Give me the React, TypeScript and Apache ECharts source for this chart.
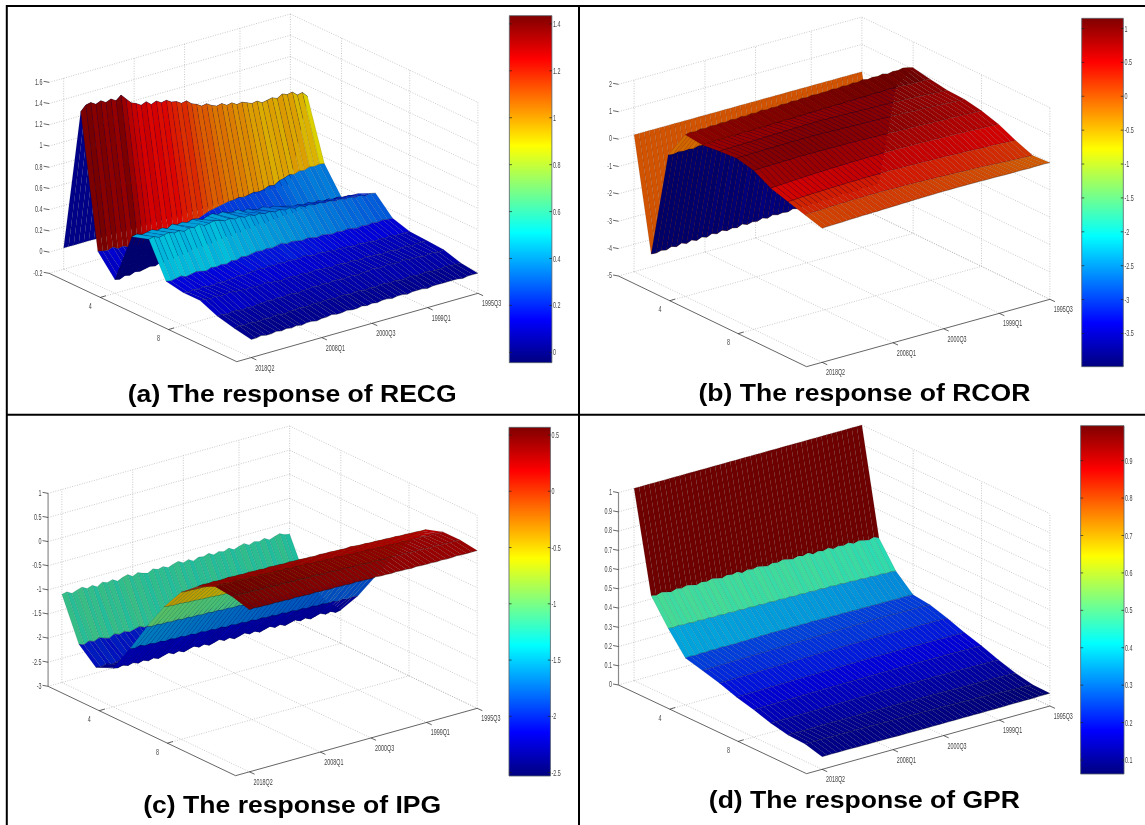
import React, { useEffect, useRef } from "react";
import * as echarts from "echarts";

// Horizons 1..12 (rows); columns run from 2018Q2 (first) back to 1995Q3 (last), every second quarter.
const RECG = [
  [0,0,0,0,0,0,0,0,0,0,0,0,0,0,0,0,0,0,0,0,0,0,0,0,0,0,0,0,0,0,0,0,0,0,0,0,0,0,0,0,0,0,0,0,0,0],
  [1.36,1.41,1.42,1.39,1.41,1.38,1.40,1.37,1.41,1.36,1.31,1.29,1.26,1.28,1.24,1.26,1.23,1.24,1.21,1.20,1.17,1.18,1.14,1.12,1.09,1.10,1.07,1.05,1.06,1.03,1.04,1.01,1.02,1.00,.98,.99,.96,.97,.98,.96,.99,.97,.98,.94,.95,.90],
  [.12,.11,.10,.12,.09,.10,.08,.09,.07,.08,.09,.07,.10,.12,.11,.13,.14,.13,.16,.17,.16,.18,.20,.21,.22,.23,.24,.24,.25,.24,.25,.26,.25,.26,.28,.27,.30,.31,.33,.32,.34,.33,.35,.34,.35,.34],
  [-.07,-.08,-.06,-.07,-.05,-.06,-.05,-.04,-.05,-.03,-.04,-.02,-.03,-.01,-.02,0,.01,0,.02,.01,.03,.02,.04,.03,.05,.04,.06,.05,.06,.07,.06,.08,.07,.08,.09,.08,.09,.10,.09,.10,.11,.10,.11,.10,.11,.10],
  [.41,.42,.40,.41,.42,.40,.41,.39,.42,.40,.41,.39,.41,.40,.38,.40,.41,.39,.40,.38,.37,.38,.35,.36,.34,.33,.34,.31,.32,.30,.29,.28,.26,.27,.25,.26,.24,.25,.23,.24,.22,.23,.21,.22,.20,.21],
  [.46,.47,.45,.46,.47,.45,.46,.44,.46,.45,.47,.44,.45,.46,.45,.43,.44,.42,.43,.41,.42,.40,.41,.39,.40,.38,.39,.37,.38,.36,.37,.35,.36,.34,.35,.33,.34,.32,.33,.31,.32,.30,.31,.29,.30,.29],
  [.14,.13,.14,.15,.13,.14,.15,.14,.13,.15,.14,.15,.14,.16,.15,.17,.16,.17,.18,.17,.18,.17,.18,.19,.17,.18,.17,.16,.17,.16,.15,.16,.15,.14,.15,.14,.15,.14,.13,.14,.13,.14,.13,.14,.13,.13],
  [.11,.10,.11,.10,.11,.10,.10,.11,.10,.11,.11,.12,.11,.12,.12,.13,.12,.13,.12,.13,.12,.13,.12,.12,.13,.12,.11,.12,.11,.11,.10,.11,.10,.10,.09,.10,.09,.09,.08,.09,.08,.09,.08,.08,.08,.08],
  [.11,.11,.10,.11,.10,.10,.11,.10,.10,.09,.10,.09,.09,.10,.09,.09,.08,.09,.09,.08,.09,.08,.08,.09,.08,.08,.07,.08,.08,.07,.08,.07,.07,.08,.07,.07,.06,.07,.07,.06,.07,.07,.06,.07,.07,.07],
  [.04,.04,.03,.04,.04,.03,.04,.03,.04,.04,.05,.04,.05,.04,.05,.05,.04,.05,.05,.06,.05,.06,.05,.06,.06,.05,.06,.06,.05,.06,.06,.07,.06,.06,.07,.06,.06,.07,.06,.06,.06,.05,.06,.06,.05,.06],
  [0,.01,0,.01,0,0,.01,0,.01,.01,0,.01,.01,.02,.01,.01,.02,.01,.02,.02,.01,.02,.02,.01,.02,.02,.01,.02,.01,.02,.02,.01,.02,.01,.01,.02,.01,.01,.02,.01,.01,.01,.02,.01,.01,.01],
  [-.03,-.03,-.02,-.03,-.03,-.02,-.03,-.02,-.03,-.02,-.03,-.02,-.02,-.03,-.02,-.02,-.01,-.02,-.02,-.01,-.02,-.02,-.01,-.02,-.01,-.02,-.01,-.01,-.02,-.01,-.01,-.02,-.01,-.01,-.01,-.02,-.01,-.01,-.01,-.01,-.01,-.01,-.02,-.01,-.01,-.01],
];
const RCOR = [
  [0,0,0,0,0,0,0,0,0,0,0,0,0,0,0,0,0,0,0,0,0,0,0,0,0,0,0,0,0,0,0,0,0,0,0,0,0,0,0,0,0,0,0,0,0,0],
  [-4.05,-4.07,-4.02,-4.06,-3.98,-4.04,-3.96,-4.03,-3.95,-4.02,-3.94,-4.0,-3.92,-3.98,-3.9,-3.97,-3.92,-3.96,-3.88,-3.95,-3.9,-3.93,-3.86,-3.92,-3.85,-3.9,-3.87,-3.9,-3.83,-3.88,-3.85,-3.87,-3.82,-3.86,-3.8,-3.85,-3.82,-3.84,-3.78,-3.83,-3.8,-3.82,-3.76,-3.8,-3.78,-3.75],
  [-.13,-.15,-.11,-.14,-.12,-.15,-.1,-.13,-.11,-.12,-.09,-.12,-.08,-.1,-.07,-.09,-.06,-.08,-.05,-.07,-.04,-.06,-.03,-.05,-.02,-.04,-.01,-.03,0,-.02,.01,-.01,.02,0,.03,.01,.04,.02,.05,.03,.06,.04,.07,.05,.06,.08],
  [.9,.94,.91,.96,.93,.97,.94,.98,.95,.99,.96,1.0,.97,1.01,.98,1.03,.99,1.02,1.0,1.04,1.01,1.05,1.02,1.06,1.03,1.07,1.04,1.06,1.05,1.08,1.05,1.09,1.06,1.1,1.07,1.12,1.08,1.11,1.09,1.13,1.08,1.12,1.1,1.14,1.1,1.05],
  [.83,.85,.84,.86,.85,.87,.86,.85,.88,.86,.87,.89,.88,.87,.9,.88,.91,.89,.9,.92,.9,.93,.91,.92,.94,.92,.95,.93,.94,.96,.94,.97,.95,.96,.98,.96,.97,.99,.96,.98,.97,.95,.96,.94,.95,.93],
  [.9,.92,.91,.93,.92,.94,.93,.95,.94,.96,.95,.97,.96,.98,.97,.99,.98,1.0,.99,1.0,1.01,.99,1.0,.98,.99,.97,.98,.96,.97,.95,.96,.94,.95,.93,.94,.92,.91,.92,.9,.89,.88,.87,.86,.85,.84,.83],
  [.95,.96,.95,.97,.96,.97,.98,.97,.99,.98,.99,1.0,.98,1.0,.99,1.0,.98,.99,.97,.98,.96,.97,.95,.96,.94,.95,.93,.94,.92,.93,.91,.92,.9,.91,.89,.88,.87,.88,.86,.85,.84,.83,.82,.81,.81,.8],
  [.8,.81,.82,.81,.83,.82,.84,.83,.84,.85,.84,.85,.84,.85,.84,.85,.83,.84,.83,.84,.82,.83,.81,.82,.8,.81,.79,.8,.78,.79,.77,.78,.76,.77,.75,.74,.75,.73,.72,.73,.71,.72,.7,.69,.69,.68],
  [.46,.47,.48,.49,.5,.51,.52,.53,.54,.55,.55,.56,.57,.57,.58,.58,.59,.59,.59,.6,.6,.6,.61,.6,.6,.61,.6,.6,.59,.59,.59,.58,.58,.57,.57,.56,.56,.55,.54,.54,.53,.52,.51,.51,.5,.49],
  [.26,.27,.28,.29,.3,.31,.31,.32,.33,.33,.34,.34,.35,.35,.35,.36,.36,.36,.36,.36,.36,.36,.35,.35,.35,.34,.34,.33,.33,.32,.32,.31,.31,.3,.29,.29,.28,.27,.26,.25,.25,.24,.23,.22,.21,.2],
  [.08,.09,.1,.1,.11,.12,.12,.13,.13,.14,.14,.14,.15,.15,.15,.15,.15,.15,.14,.14,.14,.13,.13,.12,.12,.11,.11,.1,.09,.09,.08,.07,.06,.06,.05,.04,.03,.02,.01,0,-.01,-.02,-.03,-.04,-.04,-.05],
  [-.1,-.09,-.09,-.08,-.08,-.07,-.06,-.06,-.05,-.05,-.04,-.04,-.03,-.03,-.02,-.02,-.01,-.01,0,0,.01,.01,.01,.02,.02,.02,.02,.02,.02,.02,.02,.02,.01,.01,.01,.01,0,0,0,0,0,-.01,0,0,0,-.01],
];
const IPG = [
  [-1.17,-1.15,-1.21,-1.17,-1.14,-1.2,-1.16,-1.22,-1.15,-1.19,-1.16,-1.22,-1.17,-1.14,-1.21,-1.16,-1.2,-1.23,-1.17,-1.21,-1.18,-1.23,-1.19,-1.16,-1.22,-1.18,-1.24,-1.19,-1.21,-1.17,-1.23,-1.19,-1.22,-1.18,-1.24,-1.2,-1.17,-1.23,-1.19,-1.22,-1.18,-1.24,-1.2,-1.17,-1.22,-1.24],
  [-2.04,-2.08,-2.03,-2.07,-2.02,-2.06,-2.09,-2.03,-2.07,-2.04,-2.08,-2.05,-2.02,-2.07,-2.04,-2.08,-2.03,-2.06,-2.1,-2.04,-2.07,-2.03,-2.08,-2.05,-2.02,-2.07,-2.04,-2.09,-2.05,-2.03,-2.07,-2.04,-2.08,-2.05,-2.03,-2.07,-2.04,-2.08,-2.03,-2.06,-2.04,-2.07,-2.05,-2.03,-2.06,-2.05],
  [-2.35,-2.37,-2.34,-2.38,-2.36,-2.33,-2.37,-2.35,-2.32,-2.36,-2.34,-2.31,-2.35,-2.33,-2.3,-2.34,-2.32,-2.3,-2.33,-2.31,-2.29,-2.32,-2.3,-2.28,-2.31,-2.29,-2.27,-2.3,-2.28,-2.26,-2.29,-2.27,-2.25,-2.28,-2.26,-2.24,-2.27,-2.25,-2.23,-2.26,-2.24,-2.22,-2.25,-2.23,-2.21,-2.24],
  [-2.2,-2.22,-2.19,-2.23,-2.2,-2.24,-2.21,-2.25,-2.22,-2.26,-2.23,-2.2,-2.25,-2.22,-2.27,-2.24,-2.21,-2.26,-2.23,-2.28,-2.25,-2.22,-2.27,-2.24,-2.29,-2.26,-2.23,-2.28,-2.25,-2.3,-2.27,-2.24,-2.29,-2.26,-2.31,-2.28,-2.25,-2.3,-2.27,-2.32,-2.29,-2.26,-2.31,-2.28,-2.33,-2.31],
  [-1.62,-1.64,-1.61,-1.65,-1.63,-1.66,-1.64,-1.67,-1.65,-1.68,-1.66,-1.69,-1.67,-1.7,-1.68,-1.71,-1.69,-1.72,-1.7,-1.73,-1.71,-1.74,-1.72,-1.75,-1.73,-1.76,-1.74,-1.77,-1.75,-1.78,-1.76,-1.79,-1.77,-1.8,-1.78,-1.81,-1.79,-1.82,-1.8,-1.83,-1.81,-1.84,-1.82,-1.85,-1.83,-1.85],
  [-1.0,-1.02,-1.01,-1.03,-1.02,-1.04,-1.03,-1.05,-1.04,-1.06,-1.05,-1.07,-1.06,-1.08,-1.07,-1.09,-1.08,-1.1,-1.09,-1.11,-1.1,-1.12,-1.11,-1.13,-1.12,-1.14,-1.13,-1.15,-1.14,-1.16,-1.15,-1.17,-1.16,-1.18,-1.17,-1.19,-1.18,-1.2,-1.19,-1.21,-1.22,-1.23,-1.25,-1.26,-1.28,-1.29],
  [-.42,-.43,-.44,-.44,-.45,-.46,-.46,-.47,-.48,-.48,-.49,-.5,-.5,-.51,-.52,-.52,-.53,-.54,-.54,-.55,-.56,-.56,-.57,-.58,-.58,-.59,-.6,-.6,-.61,-.62,-.62,-.63,-.64,-.64,-.65,-.66,-.66,-.67,-.67,-.68,-.68,-.69,-.69,-.7,-.7,-.71],
  [.05,.04,.04,.03,.03,.02,.02,.01,.01,0,0,-.01,-.01,-.02,-.03,-.03,-.04,-.05,-.05,-.06,-.07,-.07,-.08,-.09,-.09,-.1,-.11,-.11,-.12,-.13,-.13,-.14,-.15,-.15,-.16,-.17,-.17,-.18,-.18,-.19,-.19,-.2,-.2,-.21,-.21,-.22],
  [.34,.35,.34,.35,.34,.34,.35,.34,.34,.33,.34,.33,.33,.32,.33,.32,.32,.31,.32,.31,.31,.3,.3,.29,.3,.29,.29,.28,.28,.27,.28,.27,.26,.26,.25,.25,.24,.24,.23,.23,.22,.22,.21,.21,.2,.2],
  [.5,.51,.5,.49,.5,.49,.48,.49,.47,.48,.47,.46,.47,.45,.46,.44,.45,.43,.44,.42,.43,.41,.42,.4,.41,.39,.4,.38,.39,.37,.38,.36,.37,.35,.36,.35,.34,.35,.33,.34,.33,.34,.32,.33,.32,.32],
  [.46,.47,.46,.45,.46,.45,.44,.45,.44,.43,.44,.43,.42,.43,.42,.41,.42,.41,.4,.41,.4,.39,.4,.39,.38,.39,.38,.37,.38,.37,.36,.37,.36,.35,.36,.35,.34,.35,.34,.33,.34,.33,.33,.32,.33,.32],
  [.36,.37,.36,.36,.35,.36,.35,.35,.34,.35,.34,.34,.33,.34,.33,.33,.32,.33,.32,.32,.31,.32,.31,.31,.3,.31,.3,.3,.29,.3,.29,.29,.28,.29,.28,.28,.28,.27,.28,.27,.27,.28,.27,.27,.27,.27],
];
const GPR = [
  [1,1,1,1,1,1,1,1,1,1,1,1,1,1,1,1,1,1,1,1,1,1,1,1,1,1,1,1,1,1,1,1,1,1,1,1,1,1,1,1,1,1,1,1,1,1],
  [.484,.478,.486,.48,.474,.483,.477,.485,.479,.473,.482,.476,.484,.478,.472,.481,.475,.483,.47,.479,.473,.481,.475,.469,.478,.472,.48,.474,.468,.477,.471,.479,.465,.473,.467,.475,.463,.471,.465,.473,.461,.469,.463,.457,.465,.455],
  [.355,.352,.356,.351,.354,.349,.353,.348,.352,.347,.351,.346,.35,.345,.349,.344,.348,.343,.347,.342,.346,.341,.345,.34,.344,.339,.343,.338,.342,.337,.341,.336,.34,.335,.338,.333,.336,.331,.334,.329,.332,.327,.33,.325,.328,.324],
  [.243,.245,.242,.246,.243,.247,.244,.248,.245,.246,.244,.247,.245,.248,.246,.249,.247,.25,.248,.249,.247,.25,.248,.249,.247,.25,.248,.249,.247,.248,.246,.248,.246,.247,.245,.247,.245,.246,.244,.246,.244,.245,.243,.245,.244,.243],
  [.22,.221,.22,.222,.222,.223,.223,.224,.224,.225,.225,.226,.226,.227,.227,.228,.228,.229,.229,.23,.23,.231,.231,.232,.232,.233,.233,.234,.234,.234,.235,.235,.235,.236,.236,.236,.236,.236,.235,.235,.235,.234,.234,.233,.233,.232],
  [.196,.197,.197,.198,.199,.199,.2,.2,.201,.201,.202,.202,.203,.203,.204,.204,.205,.205,.206,.206,.206,.207,.207,.207,.208,.208,.208,.208,.208,.209,.209,.209,.209,.209,.208,.208,.208,.208,.207,.207,.207,.206,.206,.206,.205,.205],
  [.165,.166,.166,.167,.167,.168,.168,.169,.169,.17,.17,.17,.171,.171,.172,.172,.172,.173,.173,.173,.174,.174,.174,.174,.175,.175,.175,.175,.175,.175,.175,.175,.175,.175,.175,.174,.174,.174,.174,.173,.173,.173,.173,.172,.172,.172],
  [.142,.142,.143,.143,.143,.144,.144,.144,.145,.145,.145,.146,.146,.146,.147,.147,.147,.147,.148,.148,.148,.148,.148,.149,.149,.149,.149,.149,.149,.149,.149,.149,.149,.149,.149,.148,.148,.148,.148,.148,.147,.147,.147,.146,.146,.146],
  [.114,.114,.115,.115,.115,.115,.116,.116,.116,.116,.117,.117,.117,.117,.118,.118,.118,.118,.118,.118,.119,.119,.119,.119,.119,.119,.119,.119,.119,.118,.118,.118,.118,.118,.117,.117,.117,.117,.116,.116,.116,.115,.115,.115,.114,.114],
  [.095,.095,.095,.095,.095,.095,.096,.096,.096,.096,.096,.096,.096,.096,.096,.096,.096,.096,.095,.095,.095,.095,.095,.095,.094,.094,.094,.094,.094,.093,.093,.093,.092,.092,.092,.091,.091,.091,.09,.09,.09,.089,.089,.088,.088,.087],
  [.09,.09,.09,.09,.09,.09,.089,.089,.089,.089,.089,.088,.088,.088,.088,.087,.087,.087,.086,.086,.086,.085,.085,.085,.084,.084,.083,.083,.082,.082,.081,.081,.08,.079,.079,.078,.077,.076,.075,.074,.073,.072,.071,.07,.069,.068],
  [.066,.066,.066,.066,.066,.066,.066,.065,.065,.065,.065,.065,.065,.065,.065,.064,.064,.064,.064,.064,.064,.064,.064,.064,.064,.064,.064,.064,.064,.064,.064,.064,.064,.064,.064,.064,.064,.065,.065,.065,.065,.065,.065,.066,.066,.066],
];

const TIME_TICK_LABELS = ["2018Q2", "2008Q1", "2000Q3", "1999Q1", "1995Q3"];
const TIME_TICK_COLUMNS = [0, 14, 24, 35, 45];
const HORIZON_TICKS = [4, 8];
const Z_TICKS = [
  [-0.2, 0, 0.2, 0.4, 0.6, 0.8, 1, 1.2, 1.4, 1.6],
  [-5, -4, -3, -2, -1, 0, 1, 2],
  [-3, -2.5, -2, -1.5, -1, -0.5, 0, 0.5, 1],
  [0, 0.1, 0.2, 0.3, 0.4, 0.5, 0.6, 0.7, 0.8, 0.9, 1],
];
const BAR_TICKS = [
  [0, 0.2, 0.4, 0.6, 0.8, 1, 1.2, 1.4],
  [-3.5, -3, -2.5, -2, -1.5, -1, -0.5, 0, 0.5, 1],
  [-2.5, -2, -1.5, -1, -0.5, 0, 0.5],
  [0.1, 0.2, 0.3, 0.4, 0.5, 0.6, 0.7, 0.8, 0.9],
];
const TITLES = ["(a) The response of RECG", "(b) The response of RCOR", "(c) The response of IPG", "(d) The response of GPR"];

type Pt = number[];
const PANELS = [
  { rows: RECG, ox: 0, oy: 0, cw: 580, ch: 412, xMax: 1568, yMax: 1236, A: [133, 820], B: [640, 1085], C: [1292, 880], zMin: -0.2, zMax: 1.6, height: 573, t0: 0.06, clim: [-0.044, 1.435], bar: [1377, 47, 1492, 1088], title: [790, 1180], zAxis: 0, shade: 0.86 },
  { rows: RCOR, ox: 578, oy: 0, cw: 567, ch: 412, xMax: 1568, yMax: 1236, A: [112, 828], B: [632, 1100], C: [1305, 898], zMin: -5, zMax: 2, height: 575, t0: 0.064, clim: [-3.99, 1.15], bar: [1393, 55, 1508, 1100], title: [792, 1178], zAxis: 0, shade: 0.82 },
  { rows: IPG, ox: 0, oy: 410, cw: 580, ch: 415, xMax: 1568, yMax: 1245, A: [130, 829], B: [637, 1097], C: [1290, 895], zMin: -3, zMax: 1, height: 579, t0: 0.057, clim: [-2.53, 0.568], bar: [1376, 52, 1488, 1098], title: [790, 1183], zAxis: 1, shade: 0.74 },
  { rows: GPR, ox: 578, oy: 410, cw: 567, ch: 415, xMax: 1568, yMax: 1245, A: [112, 825], B: [632, 1091], C: [1305, 888], zMin: 0, zMax: 1, height: 577, t0: 0.064, clim: [0.0626, 0.9935], bar: [1390, 47, 1510, 1092], title: [792, 1170], zAxis: 1, shade: 0.86 },
];

const clamp = (v: number) => Math.max(0, Math.min(1, v));
const jet = (x: number, shade = 1) => {
  const n = clamp(x);
  const c = (o: number) => Math.round(255 * shade * clamp(1.5 - Math.abs(4 * n - o)));
  return `rgb(${c(3)},${c(2)},${c(1)})`;
};

const makeOption = () => {
  const series: any[] = [];
  const grid: any[] = [];
  const xAxis: any[] = [];
  const yAxis: any[] = [];

  PANELS.forEach((g, i) => {
    grid.push({ left: g.ox, top: g.oy, width: g.cw, height: g.ch, containLabel: false, show: false });
    xAxis.push({ type: "value", gridIndex: i, min: 0, max: g.xMax, show: false });
    yAxis.push({ type: "value", gridIndex: i, min: 0, max: g.yMax, inverse: true, show: false });

    const T = [g.C[0] - g.B[0], g.C[1] - g.B[1]];
    const H = [g.B[0] - g.A[0], g.B[1] - g.A[1]];
    const zs = g.height / (g.zMax - g.zMin);
    const box = (u: number, h: number, z: number): Pt => [
      g.A[0] + T[0] * u + (H[0] * (h - 1)) / 11,
      g.A[1] + T[1] * u + (H[1] * (h - 1)) / 11 - (z - g.zMin) * zs,
    ];
    const uOf = (col: number) => g.t0 + ((1 - g.t0) * col) / 45;
    const base = { type: "custom", coordinateSystem: "cartesian2d", xAxisIndex: i, yAxisIndex: i, clip: false, silent: true, animation: false };

    // walls and floor
    const lines: number[][] = [];
    const add = (a: Pt, b: Pt, kind: number) => lines.push([a[0], a[1], b[0], b[1], kind]);
    Z_TICKS[i].forEach((z) => {
      add(box(0, 1, z), box(1, 1, z), 0);
      add(box(1, 1, z), box(1, 12, z), 0);
    });
    TIME_TICK_COLUMNS.forEach((col) => {
      const u = uOf(col);
      add(box(u, 1, g.zMin), box(u, 1, g.zMax), 0);
      add(box(u, 1, g.zMin), box(u, 12, g.zMin), 0);
    });
    HORIZON_TICKS.concat([12]).forEach((h) => add(box(1, h, g.zMin), box(1, h, g.zMax), 0));
    HORIZON_TICKS.forEach((h) => add(box(0, h, g.zMin), box(1, h, g.zMin), 0));
    series.push({
      ...base, z: 1, data: lines,
      renderItem: (_: any, api: any) => {
        const a = api.coord([api.value(0), api.value(1)]);
        const b = api.coord([api.value(2), api.value(3)]);
        return { type: "line", shape: { x1: a[0], y1: a[1], x2: b[0], y2: b[1] }, style: { stroke: "#a6a6a6", lineWidth: 0.6, lineDash: [1, 1.5], fill: null } };
      },
    });

    // surface: painted from the back corner to the front corner
    const faces: number[][] = [];
    const cols = g.rows[0].length;
    for (let h = 0; h < 11; h++) {
      for (let c = cols - 2; c >= 0; c--) {
        faces.push([h, c, g.rows[h][c], g.rows[h][c + 1], g.rows[h + 1][c], g.rows[h + 1][c + 1]]);
      }
    }
    series.push({
      ...base, z: 2, data: faces, progressive: 0,
      renderItem: (_: any, api: any) => {
        const h = api.value(0) + 1;
        const c = api.value(1);
        const p = [
          box(uOf(c), h, api.value(2)),
          box(uOf(c + 1), h, api.value(3)),
          box(uOf(c + 1), h + 1, api.value(5)),
          box(uOf(c), h + 1, api.value(4)),
        ].map((q) => api.coord(q));
        return {
          type: "group",
          children: [
            {
              type: "polygon",
              shape: { points: p },
              style: {
                fill: jet((api.value(3) - g.clim[0]) / (g.clim[1] - g.clim[0]), g.shade),
                stroke: "rgba(0,0,0,0.2)",
                lineWidth: 0.45,
                lineJoin: "bevel",
              },
            },
            {
              type: "line",
              shape: { x1: p[2][0], y1: p[2][1], x2: p[3][0], y2: p[3][1] },
              style: { stroke: "rgba(0,0,0,0.45)", lineWidth: 0.5 },
            },
          ],
        };
      },
    });

    // colour bar
    const stops: any[] = [];
    for (let s = 0; s <= 16; s++) stops.push({ offset: s / 16, color: jet(1 - s / 16) });
    series.push({
      ...base, z: 3, data: [g.bar],
      renderItem: (_: any, api: any) => {
        const a = api.coord([api.value(0), api.value(1)]);
        const b = api.coord([api.value(2), api.value(3)]);
        return {
          type: "rect",
          shape: { x: a[0], y: a[1], width: b[0] - a[0], height: b[1] - a[1] },
          style: { fill: new echarts.graphic.LinearGradient(0, 0, 0, 1, stops), stroke: "#55606a", lineWidth: 0.8 },
        };
      },
    });

    // axes and tick marks
    const barY = (v: number) => g.bar[1] + ((g.clim[1] - v) / (g.clim[1] - g.clim[0])) * (g.bar[3] - g.bar[1]);
    const solid: number[][] = [];
    const addS = (a: Pt, b: Pt, w: number) => solid.push([a[0], a[1], b[0], b[1], w]);
    addS(g.A, g.B, 0);
    addS(g.B, g.C, 0);
    if (g.zAxis) addS(box(0, 1, g.zMin), box(0, 1, g.zMax), 1);
    Z_TICKS[i].forEach((z) => {
      const p = box(0, 1, z);
      addS([p[0] - 15, p[1] - 3], p, 0);
    });
    HORIZON_TICKS.forEach((h) => {
      const p = box(0, h, g.zMin);
      addS(p, [p[0] + 15, p[1] - 5], 0);
    });
    TIME_TICK_COLUMNS.forEach((col) => {
      const p = [g.B[0] + T[0] * uOf(col), g.B[1] + T[1] * uOf(col)];
      addS(p, [p[0] + 14, p[1] + 7], 0);
    });
    BAR_TICKS[i].forEach((v) => {
      const y = barY(v);
      addS([g.bar[0], y], [g.bar[0] + 7, y], 0);
      addS([g.bar[2] - 7, y], [g.bar[2], y], 0);
    });
    series.push({
      ...base, z: 4, data: solid,
      renderItem: (_: any, api: any) => {
        const a = api.coord([api.value(0), api.value(1)]);
        const b = api.coord([api.value(2), api.value(3)]);
        const gray = api.value(4) === 1;
        return { type: "line", shape: { x1: a[0], y1: a[1], x2: b[0], y2: b[1] }, style: { stroke: gray ? "#8a8a8a" : "#222", lineWidth: gray ? 1.2 : 0.7 } };
      },
    });

    // texts
    const texts: any[] = [];
    Z_TICKS[i].forEach((z) => {
      const p = box(0, 1, z);
      texts.push({ t: String(z), x: p[0] - 18, y: p[1] - 2, align: "right" });
    });
    HORIZON_TICKS.forEach((h) => {
      const p = box(0, h, g.zMin);
      texts.push({ t: String(h), x: p[0] - 27, y: p[1] + 26, align: "center" });
    });
    TIME_TICK_COLUMNS.forEach((col, k) => {
      const p = [g.B[0] + T[0] * uOf(col), g.B[1] + T[1] * uOf(col)];
      texts.push({ t: TIME_TICK_LABELS[k], x: p[0] + 37, y: p[1] + 30, align: "center" });
    });
    BAR_TICKS[i].forEach((v) => texts.push({ t: String(v), x: g.bar[2] + 3, y: barY(v), align: "left" }));
    texts.push({ t: TITLES[i], x: g.title[0], y: g.title[1], align: "center", title: true });
    series.push({
      ...base, z: 5, data: texts.map((d) => [d.x, d.y]),
      renderItem: (params: any, api: any) => {
        const d = texts[params.dataIndex];
        const p = api.coord([api.value(0), api.value(1)]);
        return {
          type: "text",
          x: p[0],
          y: p[1],
          scaleX: d.title ? 1.13 : 0.6,
          style: {
            text: d.t,
            fontFamily: '"Liberation Sans", Arial, sans-serif',
            fontSize: d.title ? 23.5 : 9,
            fontWeight: d.title ? "bold" : "normal",
            fill: d.title ? "#000" : "#444",
            align: d.align,
            verticalAlign: "middle",
          },
        };
      },
    });
  });

  const frame = (x1: number, y1: number, x2: number, y2: number) => ({
    type: "line", shape: { x1, y1, x2, y2 }, style: { stroke: "#000", lineWidth: 2 }, z: 10, silent: true,
  });

  return {
    animation: false,
    backgroundColor: "#fff",
    grid, xAxis, yAxis, series,
    graphic: { elements: [frame(6.8, 5, 6.8, 825), frame(6, 6, 1145, 6), frame(579, 6, 579, 825), frame(6, 414.7, 1145, 414.7)] },
  };
};

export default function App() {
  const ref = useRef<HTMLDivElement>(null);
  useEffect(() => {
    document.body.style.margin = "0";
    const chart = echarts.init(ref.current!, undefined, { renderer: "svg" });
    chart.setOption(makeOption() as any);
    return () => chart.dispose();
  }, []);
  return <div ref={ref} style={{ position: "absolute", left: 0, top: 0, width: 1145, height: 825, filter: "blur(0.4px)" }} />;
}
